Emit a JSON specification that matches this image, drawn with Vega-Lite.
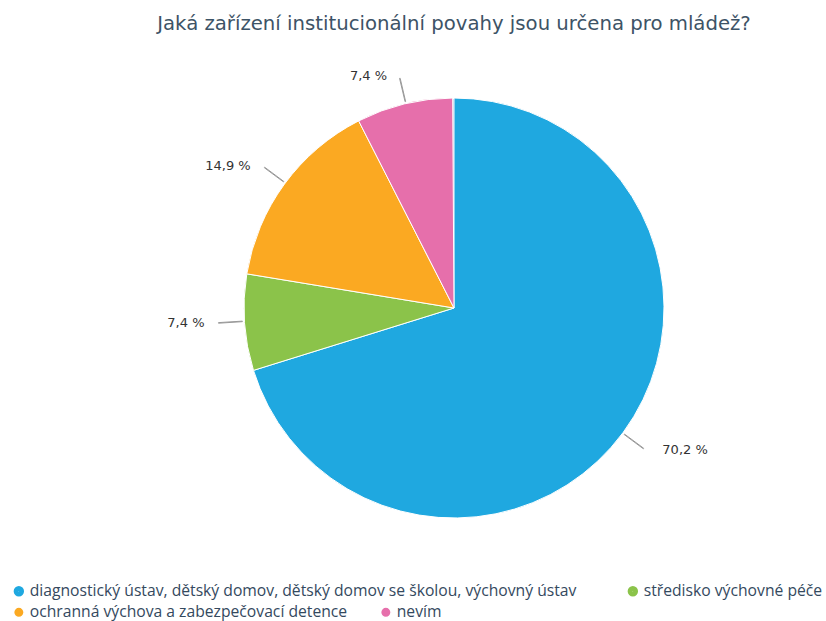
{
  "$schema": "https://vega.github.io/schema/vega-lite/v6.json",
  "width": 744,
  "height": 616,
  "autosize": {"type": "none"},
  "padding": {"left": 82, "top": 0, "right": 0, "bottom": 5},
  "background": "white",
  "title": {
    "text": "Jaká zařízení institucionální povahy jsou určena pro mládež?",
    "font": "DejaVu Sans",
    "fontSize": 19.7,
    "fontWeight": "normal",
    "color": "#3d5366",
    "anchor": "middle",
    "frame": "group",
    "baseline": "alphabetic",
    "offset": -50
  },
  "config": {"view": {"stroke": null}},
  "data": {
    "values": [
      {"kat": "diagnostický ústav, dětský domov, dětský domov se školou, výchovný ústav", "pct": 70.2, "label": "70,2 %", "ord": 1},
      {"kat": "středisko výchovné péče", "pct": 7.4, "label": "7,4 %", "ord": 2},
      {"kat": "ochranná výchova a zabezpečovací detence", "pct": 14.9, "label": "14,9 %", "ord": 3},
      {"kat": "nevím", "pct": 7.4, "label": "7,4 %", "ord": 4}
    ]
  },
  "transform": [
    {"window": [{"op": "sum", "field": "pct", "as": "cum"}], "sort": [{"field": "ord", "order": "ascending"}]},
    {"joinaggregate": [{"op": "sum", "field": "pct", "as": "tot"}]},
    {"calculate": "(datum.cum - datum.pct / 2) * 100 / datum.tot", "as": "mid"},
    {"calculate": "datum.mid + 0.04", "as": "mid2"}
  ],
  "layer": [
    {
      "mark": {"type": "arc", "outerRadius": 209, "fill": "white", "strokeWidth": 1},
      "encoding": {
        "theta": {"field": "pct", "type": "quantitative", "stack": true, "scale": {"domain": [0, 100]}},
        "order": {"field": "ord", "type": "quantitative"},
        "stroke": {
          "field": "kat", "type": "nominal",
          "scale": {
            "domain": ["diagnostický ústav, dětský domov, dětský domov se školou, výchovný ústav", "středisko výchovné péče", "ochranná výchova a zabezpečovací detence", "nevím"],
            "range": ["#1fa8e0", "#8bc34a", "#fba922", "#e66fab"]
          },
          "legend": {
            "values": ["diagnostický ústav, dětský domov, dětský domov se školou, výchovný ústav", "středisko výchovné péče"],
            "title": null, "orient": "none", "direction": "horizontal", "columns": 2,
            "legendX": -71, "legendY": 583, "columnPadding": 42,
            "symbolType": "circle", "symbolSize": 24, "symbolStrokeWidth": 5.5, "labelOffset": 3,
            "labelFont": "Open Sans", "labelFontSize": 15.7, "labelColor": "#34495e", "labelLimit": 800
          }
        }
      }
    },
    {
      "mark": {"type": "arc", "outerRadius": 210, "stroke": "white", "strokeWidth": 1},
      "encoding": {
        "theta": {"field": "pct", "type": "quantitative", "stack": true},
        "order": {"field": "ord", "type": "quantitative"},
        "fill": {
          "field": "kat", "type": "nominal",
          "scale": {
            "domain": ["ochranná výchova a zabezpečovací detence", "nevím", "diagnostický ústav, dětský domov, dětský domov se školou, výchovný ústav", "středisko výchovné péče"],
            "range": ["#fba922", "#e66fab", "#1fa8e0", "#8bc34a"]
          },
          "legend": {
            "values": ["ochranná výchova a zabezpečovací detence", "nevím"],
            "title": null, "orient": "none", "direction": "horizontal", "columns": 2,
            "legendX": -71, "legendY": 604, "columnPadding": 29,
            "symbolType": "circle", "symbolSize": 110, "labelOffset": 3,
            "labelFont": "Open Sans", "labelFontSize": 15.7, "labelColor": "#34495e", "labelLimit": 800
          }
        }
      }
    },
    {
      "mark": {"type": "arc", "radius": 212, "radius2": 236, "fill": null, "stroke": "#999999", "strokeWidth": 1},
      "encoding": {
        "theta": {"field": "mid", "type": "quantitative", "stack": null},
        "theta2": {"field": "mid2"}
      }
    },
    {
      "transform": [{"filter": "datum.ord == 1"}],
      "mark": {"type": "text", "radius": 238, "align": "left", "baseline": "middle", "dx": 17, "font": "DejaVu Sans", "fontSize": 13, "color": "#333333"},
      "encoding": {
        "theta": {"field": "mid", "type": "quantitative", "stack": null},
        "text": {"field": "label"}
      }
    },
    {
      "transform": [{"filter": "datum.ord != 1"}],
      "mark": {"type": "text", "radius": 238, "align": "right", "baseline": "middle", "dx": -12, "font": "DejaVu Sans", "fontSize": 13, "color": "#333333"},
      "encoding": {
        "theta": {"field": "mid", "type": "quantitative", "stack": null},
        "text": {"field": "label"}
      }
    }
  ]
}
